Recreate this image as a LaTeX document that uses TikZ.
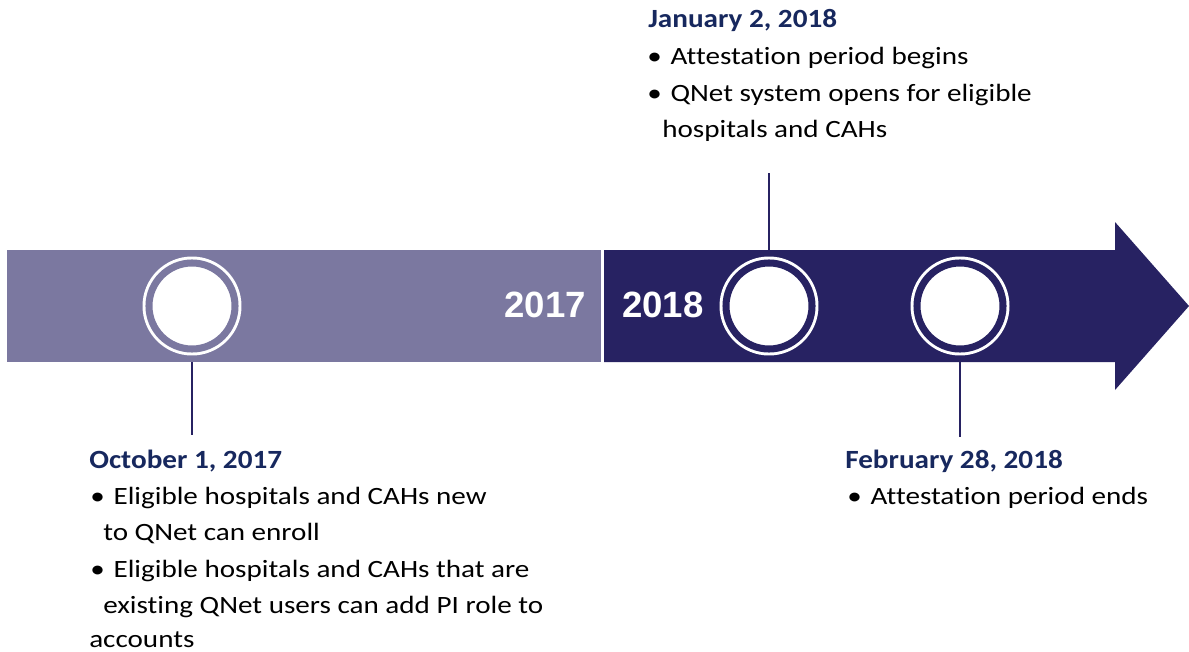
\documentclass[tikz,border=0pt]{standalone}
\usepackage{fontspec}
\setmainfont{Carlito}[Ligatures=CommonOff]
\newfontfamily\bodyfont{Carlito}[FakeStretch=1.17, Ligatures=CommonOff]
\newfontfamily\widedatefont{Carlito}[FakeStretch=1.11]
\newfontfamily\yearfont{Liberation Sans}
\usetikzlibrary{positioning}
\definecolor{barlight}{HTML}{7B78A0}
\definecolor{bardark}{HTML}{272262}
\definecolor{datenavy}{HTML}{17285E}
\tikzset{x=0.025cm, y=-0.025cm,
  date/.style={anchor=base west, inner sep=0pt, text=datenavy, font=\widedatefont\fontsize{18.7}{20}\selectfont\bfseries},
  item/.style={anchor=base west, inner sep=0pt, font=\bodyfont\fontsize{17.7}{20}\selectfont},
  year/.style={inner sep=0pt, text=white, font=\yearfont\fontsize{26}{28}\selectfont\bfseries},
  stone/.style={circle, inner sep=0pt, minimum size=2.15cm, fill=white, draw=white, double=#1, line width=2.1pt, double distance=5pt},
  stem/.style={draw=bardark, line width=1.8pt}}

\begin{document}
\begin{tikzpicture}
      \useasboundingbox (0,0) rectangle (1189,651);

      % the two year bars
      \fill[barlight] (7,250) rectangle (601,362);
      \fill[bardark] (604,250) -- (1115,250) -- (1115,222) -- (1189,306)
                     -- (1115,390) -- (1115,362) -- (604,362) -- cycle;
      \node (Y17) [year, anchor=east] at (586,305) {2017};
      \node (Y18) [year, anchor=west] at (622,305) {2018};

      % milestones
      \node (Oct) [stone=barlight] at (192,306) {};
      \node (Jan) [stone=bardark]  at (769,306) {};
      \node (Feb) [stone=bardark]  at (960,306) {};

      \coordinate (OctBar) at (192,362);
      \coordinate (OctEnd) at (192,435);
      \coordinate (JanBar) at (769,250);
      \coordinate (JanEnd) at (769,173);
      \coordinate (FebBar) at (960,362);
      \coordinate (FebEnd) at (960,437);
      \draw[stem] (OctBar) -- (OctEnd);
      \draw[stem] (JanBar) -- (JanEnd);
      \draw[stem] (FebBar) -- (FebEnd);

      % January
      \node (JanDate) [date] at (648,27) {January 2, 2018};
      \node (JanA) [item] at (647,64)  {\textbullet\hspace{0.22cm}Attestation period begins};
      \node (JanB) [item] at (647,101) {\textbullet\hspace{0.22cm}QNet system opens for eligible};
      \node (JanC) [item] at (662,137) {hospitals and CAHs};

      % October
      \node (OctDate) [date] at (89,468) {October 1, 2017};
      \node (OctA) [item] at (90,504)  {\textbullet\hspace{0.22cm}Eligible hospitals and CAHs new};
      \node (OctB) [item] at (103,540) {to QNet can enroll};
      \node (OctC) [item] at (90,577)  {\textbullet\hspace{0.22cm}Eligible hospitals and CAHs that are};
      \node (OctD) [item] at (103,613) {existing QNet users can add PI role to};
      \node (OctE) [item] at (89,647)  {accounts};

      % February
      \node (FebDate) [date] at (845,468) {February 28, 2018};
      \node (FebA) [item] at (847,504) {\textbullet\hspace{0.22cm}Attestation period ends};
    \end{tikzpicture}
\end{document}
